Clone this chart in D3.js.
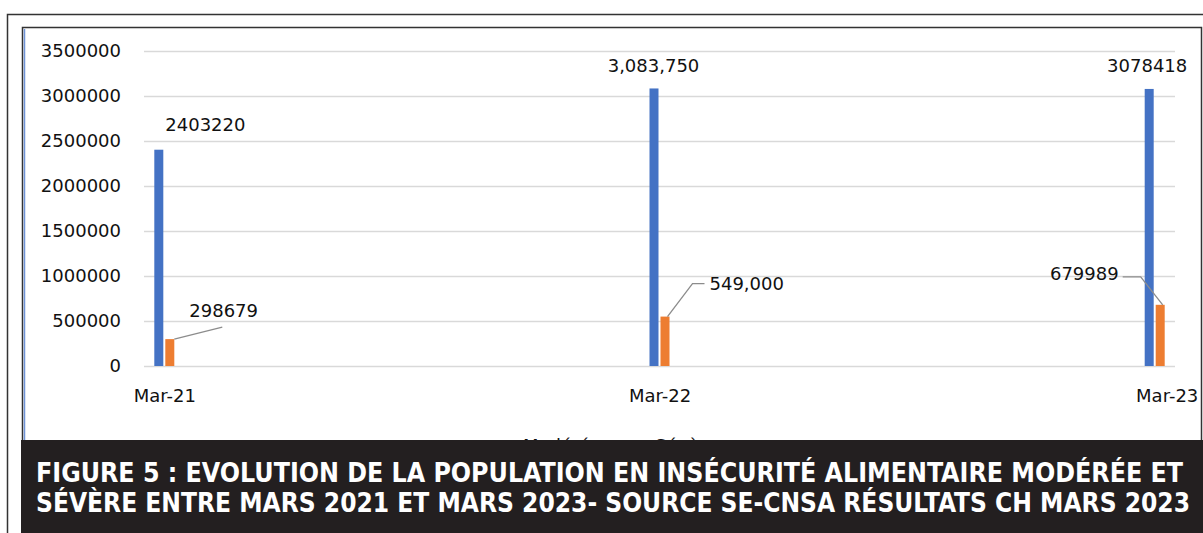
<!DOCTYPE html>
<html>
<head>
<meta charset="utf-8">
<script src="https://cdn.jsdelivr.net/npm/d3@7"></script>
<style>
  html, body { margin: 0; padding: 0; background: #fff; }
  svg { display: block; }
</style>
</head>
<body>
<div id="chart"></div>
<script>
// data
const categories = ["Mar-21", "Mar-22", "Mar-23"];
const moderee = [2403220, 3083750, 3078418];
const severe = [298679, 549000, 679989];
const commaLabels = ["Mar-22"]; // this one is printed with thousands separators
const yTicks = [0, 500000, 1000000, 1500000, 2000000, 2500000, 3000000, 3500000];
const seriesNames = ["Modérée", "Sévère"];
const captionLines = [
    "FIGURE 5 : EVOLUTION DE LA POPULATION EN INSÉCURITÉ ALIMENTAIRE MODÉRÉE ET",
    "SÉVÈRE ENTRE MARS 2021 ET MARS 2023- SOURCE SE-CNSA RÉSULTATS CH MARS 2023"
];

const W = 1203, H = 533;
const blue = "#4472c4", orange = "#ed7d31";
const font = "'DejaVu Sans', sans-serif";
const ink = "#111";

const svg = d3.select("#chart")
    .append("svg")
    .attr("width", W)
    .attr("height", H);

// frames
svg.append("path")
    .attr("d", "M7.5,533 V14.5 H1203")
    .attr("fill", "none").attr("stroke", "#333").attr("stroke-width", 1.5);
svg.append("path")
    .attr("d", "M22.5,440 V27.5 H1201.5 V440")
    .attr("fill", "none").attr("stroke", "#333").attr("stroke-width", 1.5);
svg.append("line")
    .attr("x1", 24.5).attr("x2", 24.5).attr("y1", 29).attr("y2", 440)
    .attr("stroke", "#6f93d6").attr("stroke-width", 1.5);

// scales
const x = d3.scalePoint().domain(categories).range([144, 1175]).padding(0.041);
const y = d3.scaleLinear().domain([0, 3500000]).range([366, 51]);

// gridlines
svg.append("g")
    .attr("transform", "translate(144,0)")
    .call(d3.axisLeft(y).tickValues(yTicks).tickSize(-(1175 - 144)).tickFormat(""))
    .call(g => g.select(".domain").remove())
    .call(g => g.selectAll("line").attr("stroke", "#d9d9d9").attr("stroke-width", 1.5));

// y axis labels
svg.append("g")
    .attr("transform", "translate(144,0)")
    .call(d3.axisLeft(y).tickValues(yTicks).tickSize(0).tickPadding(23).tickFormat(d3.format("d")))
    .call(g => g.select(".domain").remove())
    .call(g => g.selectAll("text")
        .attr("font-family", font).attr("font-size", "18px").attr("fill", ink));

// x axis labels
svg.append("g")
    .attr("transform", "translate(0,366)")
    .call(d3.axisBottom(x).tickSize(0).tickPadding(23))
    .call(g => g.select(".domain").remove())
    .call(g => g.selectAll("text")
        .attr("font-family", font).attr("font-size", "18px").attr("fill", ink)
        .attr("dx", (d, i) => i === categories.length - 1 ? 12 : 0));

// bars
const barW = 9;
const rows = categories.map((c, i) => ({ cat: c, mod: moderee[i], sev: severe[i] }));

svg.append("g").selectAll("rect")
    .data(rows)
    .join("rect")
    .attr("x", d => x(d.cat) - barW - 1)
    .attr("y", d => y(d.mod))
    .attr("width", barW)
    .attr("height", d => y(0) - y(d.mod))
    .attr("fill", blue);

svg.append("g").selectAll("rect")
    .data(rows)
    .join("rect")
    .attr("x", d => x(d.cat) + 1)
    .attr("y", d => y(d.sev))
    .attr("width", barW)
    .attr("height", d => y(0) - y(d.sev))
    .attr("fill", orange);

// data labels (placement offsets, relative to bar top)
const fmt = c => commaLabels.includes(c) ? d3.format(",") : d3.format("d");
const modPlace = [
    { dx: 1, dy: -19, anchor: "start" },
    { dx: -6, dy: -16.5, anchor: "middle" },
    { dx: -7.5, dy: -16.5, anchor: "middle" }
];
const sevPlace = [
    { dx: 25, dy: -22, anchor: "start", lead: [[10, 0], [58, -12]] },
    { dx: 50, dy: -27, anchor: "start", lead: [[8, 0], [33, -33], [45, -33]] },
    { dx: -36, dy: -25, anchor: "end", lead: [[8, 0], [-14, -28], [-32, -28]] }
];

svg.append("g").selectAll("text")
    .data(rows)
    .join("text")
    .attr("x", (d, i) => x(d.cat) + modPlace[i].dx)
    .attr("y", (d, i) => y(d.mod) + modPlace[i].dy)
    .attr("text-anchor", (d, i) => modPlace[i].anchor)
    .attr("font-family", font).attr("font-size", "18px").attr("fill", ink)
    .text(d => fmt(d.cat)(d.mod));

svg.append("g").selectAll("path")
    .data(rows)
    .join("path")
    .attr("d", (d, i) => d3.line()(sevPlace[i].lead.map(p => [x(d.cat) + p[0], y(d.sev) + p[1]])))
    .attr("fill", "none").attr("stroke", "#8c8c8c").attr("stroke-width", 1.3);

svg.append("g").selectAll("text")
    .data(rows)
    .join("text")
    .attr("x", (d, i) => x(d.cat) + sevPlace[i].dx)
    .attr("y", (d, i) => y(d.sev) + sevPlace[i].dy)
    .attr("text-anchor", (d, i) => sevPlace[i].anchor)
    .attr("font-family", font).attr("font-size", "18px").attr("fill", ink)
    .text(d => fmt(d.cat)(d.sev));

// legend (mostly covered by the caption band)
const legend = svg.append("g").attr("transform", "translate(505,452)");
const legX = [0, 132];
seriesNames.forEach((name, i) => {
    legend.append("rect")
        .attr("x", legX[i]).attr("y", -11).attr("width", 10).attr("height", 10)
        .attr("fill", i === 0 ? blue : orange);
    legend.append("text")
        .attr("x", legX[i] + 18).attr("y", 0)
        .attr("font-family", font).attr("font-size", "18px").attr("fill", ink)
        .text(name);
});

// caption band
svg.append("rect")
    .attr("x", 21).attr("y", 440).attr("width", W - 21).attr("height", H - 440)
    .attr("fill", "#231f20");

const capBounds = [[36, 1183], [36, 1190]];
svg.append("g").selectAll("text")
    .data(captionLines)
    .join("text")
    .attr("x", (d, i) => capBounds[i][0])
    .attr("y", (d, i) => 482 + i * 30)
    .attr("textLength", (d, i) => capBounds[i][1] - capBounds[i][0])
    .attr("lengthAdjust", "spacingAndGlyphs")
    .attr("font-family", "'DejaVu Sans Condensed', 'DejaVu Sans', sans-serif")
    .attr("font-weight", "bold")
    .attr("font-size", "26px")
    .attr("fill", "#ffffff")
    .text(d => d);
</script>
</body>
</html>
